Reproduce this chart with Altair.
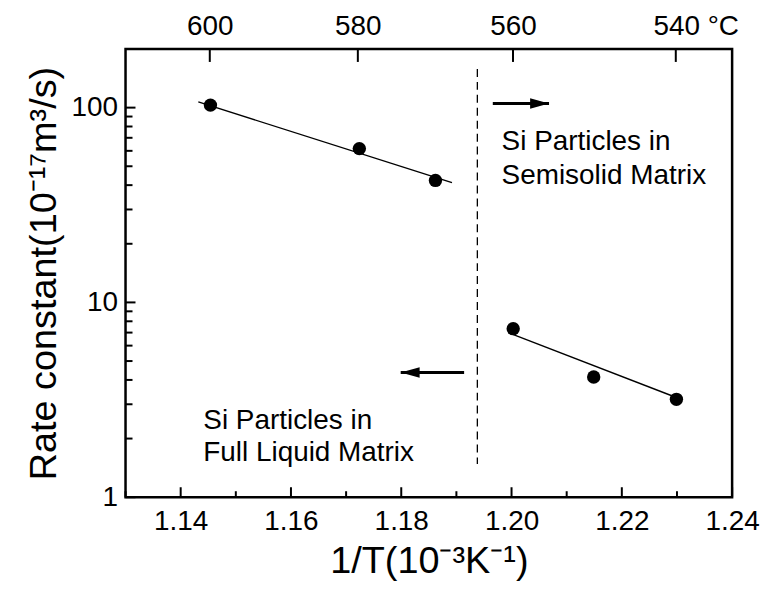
import altair as alt
import pandas as pd

# ---- data ----
inv_T = [1.1454, 1.1724, 1.1862, 1.2003, 1.2149, 1.2299]
rate = [103, 61.6, 42.3, 7.33, 4.14, 3.18]
regime = ["liquid", "liquid", "liquid", "semisolid", "semisolid", "semisolid"]

fit_x = [1.1432, 1.1892, 1.1994, 1.2300]
fit_y = [107, 41.2, 7.0, 3.24]
fit_group = ["liquid", "liquid", "semisolid", "semisolid"]

boundary_x = [1.1938, 1.1938]
boundary_y = [158, 1.48]

arrow_tail_x = [1.1966, 1.1914]
arrow_tip_x = [1.2068, 1.1799]
arrow_y = [105, 4.37]

note_lines = ["Si Particles in", "Semisolid Matrix", "Si Particles in", "Full Liquid Matrix"]
note_x = [1.1982, 1.1982, 1.1441, 1.1441]
note_y = [60.3, 40.4, 2.23, 1.53]

x_major = [1.14, 1.16, 1.18, 1.20, 1.22, 1.24]
x_minor = [1.13, 1.15, 1.17, 1.19, 1.21, 1.23]
y_major = [1, 10, 100]
y_minor = [2, 3, 4, 5, 6, 7, 8, 9, 20, 30, 40, 50, 60, 70, 80, 90]
top_celsius = [600, 580, 560, 540]
top_pos = [1000.0 / (c + 273.15) for c in top_celsius]

XDOM = [1.13, 1.24]
YDOM = [1, 200]
FONT = "Liberation Sans"
W, H = 609, 450

xs = alt.Scale(domain=XDOM, nice=False, zero=False)
ys = alt.Scale(type="log", domain=YDOM, nice=False)

yaxis = alt.Axis(values=y_major, format="d", title="Rate constant(10⁻¹⁷m³/s)",
                 labelPadding=8, titlePadding=8, labelFlush=False, labelOverlap=False)
xaxis = alt.Axis(values=x_major, format=".2f", title="1/T(10⁻³K⁻¹)",
                 labelPadding=10, titlePadding=8, labelFlush=False, labelOverlap=False)

pts = pd.DataFrame({"x": inv_T, "y": rate, "g": regime})
fit = pd.DataFrame({"x": fit_x, "y": fit_y, "g": fit_group})
bnd = pd.DataFrame({"x": boundary_x, "y": boundary_y})
arr = pd.DataFrame({"x": arrow_tail_x, "x2": arrow_tip_x, "y": arrow_y})
notes = pd.DataFrame({"x": note_x, "y": note_y, "t": note_lines})

points = alt.Chart(pts).mark_circle(size=180, color="black", opacity=1).encode(
    x=alt.X("x:Q", scale=xs, axis=xaxis),
    y=alt.Y("y:Q", scale=ys, axis=yaxis),
)

fits = alt.Chart(fit).mark_line(color="black", strokeWidth=1.4).encode(
    x=alt.X("x:Q", scale=xs, axis=None),
    y=alt.Y("y:Q", scale=ys),
    detail="g:N",
)

boundary = alt.Chart(bnd).mark_line(color="black", strokeWidth=1.3, strokeDash=[8, 5]).encode(
    x=alt.X("x:Q", scale=xs, axis=None),
    y=alt.Y("y:Q", scale=ys),
)

shafts = alt.Chart(arr).mark_rule(color="black", strokeWidth=3).encode(
    x=alt.X("x:Q", scale=xs, axis=None),
    x2="x2:Q",
    y=alt.Y("y:Q", scale=ys),
)

head_r = alt.Chart(arr.iloc[[0]]).mark_point(
    shape="M0,0L-2,-0.55L-2,0.55Z", size=361, filled=True, color="black", opacity=1
).encode(x=alt.X("x2:Q", scale=xs, axis=None), y=alt.Y("y:Q", scale=ys))

head_l = alt.Chart(arr.iloc[[1]]).mark_point(
    shape="M0,0L2,-0.55L2,0.55Z", size=361, filled=True, color="black", opacity=1
).encode(x=alt.X("x2:Q", scale=xs, axis=None), y=alt.Y("y:Q", scale=ys))

texts = alt.Chart(notes).mark_text(
    font=FONT, fontSize=28, align="left", baseline="alphabetic", color="black"
).encode(x=alt.X("x:Q", scale=xs, axis=None), y=alt.Y("y:Q", scale=ys), text="t:N")

# inward ticks
bx_major = alt.Chart(pd.DataFrame({"v": x_major})).mark_rule(color="black", strokeWidth=2).encode(
    x=alt.X("v:Q", scale=xs, axis=None), y=alt.value(H), y2=alt.value(H - 10))
bx_minor = alt.Chart(pd.DataFrame({"v": x_minor})).mark_rule(color="black", strokeWidth=2).encode(
    x=alt.X("v:Q", scale=xs, axis=None), y=alt.value(H), y2=alt.value(H - 6))
ly_major = alt.Chart(pd.DataFrame({"v": y_major})).mark_rule(color="black", strokeWidth=2).encode(
    y=alt.Y("v:Q", scale=ys), x=alt.value(0), x2=alt.value(10))
ly_minor = alt.Chart(pd.DataFrame({"v": y_minor})).mark_rule(color="black", strokeWidth=2).encode(
    y=alt.Y("v:Q", scale=ys), x=alt.value(0), x2=alt.value(7))

top_axis = alt.Axis(
    orient="top", values=top_pos, title=None, labelPadding=9, labelFlush=False, labelOverlap=False,
    labelExpr="format(1000/datum.value - 273.15, '.0f') + (datum.value > 1.22 ? ' °C' : '')",
    labelOffset={"condition": {"test": "datum.value > 1.22", "value": 20}, "value": 0},
)
top_ticks = alt.Chart(pd.DataFrame({"v": top_pos})).mark_rule(color="black", strokeWidth=2).encode(
    x=alt.X("v:Q", scale=xs, axis=top_axis), y=alt.value(0), y2=alt.value(13))

chart = alt.layer(
    boundary, fits, shafts, head_r, head_l, points, texts,
    bx_major, bx_minor, ly_major, ly_minor, top_ticks,
).resolve_axis(x="independent").properties(
    width=W, height=H,
    autosize=alt.AutoSizeParams(type="none"),
    padding={"left": 118, "top": 40, "right": 29, "bottom": 88},
    background="white",
).configure_view(
    stroke="black", strokeWidth=2.5
).configure_axis(
    domain=False, ticks=False, grid=False,
    labelFont=FONT, labelFontSize=28, labelColor="black",
    titleFont=FONT, titleFontSize=38, titleFontWeight="normal", titleColor="black",
)

chart.save("out.html", embed_options={"renderer": "svg", "actions": False})
